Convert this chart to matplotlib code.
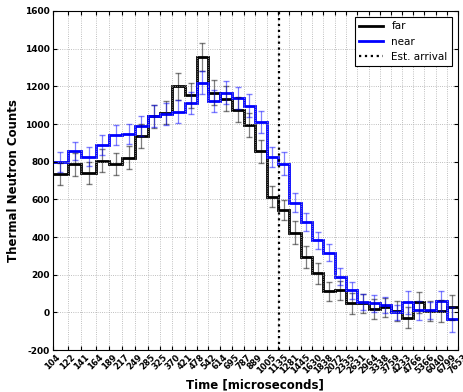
import numpy as np
import matplotlib
matplotlib.use('Agg')
import matplotlib.pyplot as plt

# bin edges (microseconds), also used as tick labels
edges = [104, 122, 141, 164, 189, 217, 249, 285, 325, 370, 421, 478, 542, 614,
         695, 787, 889, 1005, 1135, 1281, 1445, 1630, 1838, 2072, 2335, 2631,
         2964, 3338, 3759, 4233, 4766, 5366, 6040, 6799, 7653]

far = [736, 786, 738, 805, 786, 821, 936, 1041, 1060, 1200, 1152, 1354, 1166,
       1135, 1076, 995, 855, 614, 543, 423, 295, 207, 111, 117, 48, 48, 17,
       28, 8, -28, 53, 7, 7, 28]
far_err = [58, 60, 58, 60, 58, 60, 62, 62, 62, 70, 65, 75, 65, 65, 68, 65,
           62, 55, 55, 62, 58, 55, 52, 52, 55, 52, 52, 50, 52, 56, 55, 55,
           60, 66]

near = [799, 857, 827, 889, 942, 947, 989, 1042, 1051, 1065, 1112, 1219, 1122,
        1166, 1138, 1098, 1010, 825, 789, 582, 481, 384, 317, 189, 117, 53,
        48, 39, 1, 53, 10, 10, 61, -37]
near_err = [52, 50, 50, 52, 55, 52, 55, 58, 58, 62, 60, 62, 58, 60, 60, 60,
            58, 55, 60, 50, 48, 45, 45, 45, 45, 42, 45, 42, 40, 62, 50, 45,
            53, 68]

arrival = 1145

edges = np.array(edges, dtype=float)
centers = np.sqrt(edges[:-1] * edges[1:])

fig = plt.figure(figsize=(4.64, 3.92), dpi=100)
ax = fig.add_axes([0.1136, 0.107, 0.8734, 0.865])

ax.errorbar(centers, far, yerr=far_err, fmt='none', ecolor='black',
            alpha=0.5, elinewidth=0.9, capsize=2)
ax.errorbar(centers, near, yerr=near_err, fmt='none', ecolor='blue',
            alpha=0.5, elinewidth=0.9, capsize=2)
ax.stairs(far, edges, baseline=None, color='black', lw=2, label='far')
ax.stairs(near, edges, baseline=None, color='blue', lw=2, label='near')
ax.axvline(arrival, color='black', ls=':', lw=1.6, label='Est. arrival')

ax.set_xscale('log')
ax.set_xlim(edges[0], edges[-1])
ax.set_ylim(-200, 1600)
ax.set_xticks(edges)
ax.set_xticklabels([str(int(e)) for e in edges], rotation=45, fontsize=6,
                   fontweight='bold')
ax.xaxis.set_minor_locator(matplotlib.ticker.NullLocator())
ax.set_yticks(range(-200, 1601, 200))
ax.set_yticklabels([str(v) for v in range(-200, 1601, 200)], fontsize=6.5,
                   fontweight='bold')
ax.tick_params(direction='in', top=True, right=True, length=3, pad=2)
ax.grid(True, ls=':', color='#aaaaaa', lw=0.6)

ax.set_xlabel('Time [microseconds]', fontsize=8.5, fontweight='bold',
              labelpad=2)
ax.set_ylabel('Thermal Neutron Counts', fontsize=8.5, fontweight='bold')

leg = ax.legend(loc='upper right', fontsize=7.5, fancybox=False,
                framealpha=1, edgecolor='black', handlelength=2.3,
                borderaxespad=0.6)
leg.get_frame().set_linewidth(0.8)

fig.savefig('out.png', dpi=100)
